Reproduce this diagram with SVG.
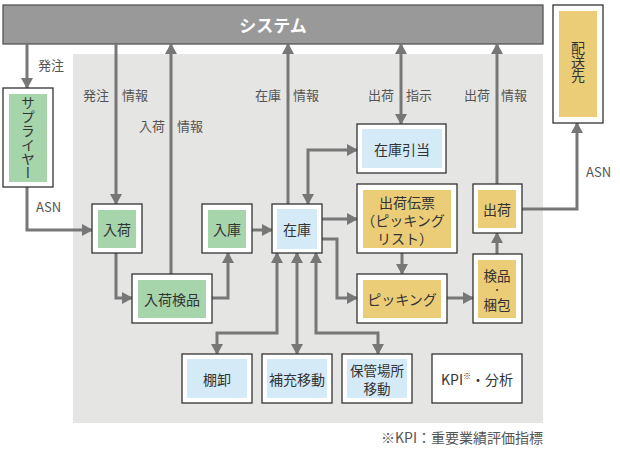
<svg xmlns="http://www.w3.org/2000/svg" width="620" height="450" viewBox="0 0 620 450">
<defs>
<marker id="ah" markerUnits="userSpaceOnUse" markerWidth="11" markerHeight="12" refX="10" refY="6" orient="auto-start-reverse">
<path d="M0,0 L11,6 L0,12 z" fill="#777"/>
</marker>
<style>
text{font-family:"Noto Sans CJK JP","Noto Sans",sans-serif;fill:#333;}
.lbl{font-size:13px;fill:#555;}
.t{font-size:14px;text-anchor:middle;dominant-baseline:central;}
.outer{fill:#fff;stroke:#333;stroke-width:1.3;}
.g{fill:#a6d4ab;}
.b{fill:#d4eaf7;}
.y{fill:#ebcc77;}
.c{fill:none;stroke:#777;stroke-width:3;}
.a{marker-end:url(#ah);}
.aa{marker-end:url(#ah);marker-start:url(#ah);}
</style>
</defs>
<rect x="73" y="54" width="470" height="369" fill="#e5e5e4"/>
<g id="system">
<rect x="3" y="5" width="540" height="39" fill="#999" stroke="#555" stroke-width="1.3"/>
<text x="273" y="24.5" class="t" style="fill:#fff;font-size:17px;font-weight:bold">システム</text>
</g>
<g id="connectors">
<path class="c a" d="M27,44 V88"/>
<path class="c a" d="M27,187 V230 H92"/>
<path class="c a" d="M116,44 V204"/>
<path class="c a" d="M171,274 V44"/>
<path class="c a" d="M116,253 V298 H132"/>
<path class="c a" d="M212,298 H228 V253"/>
<path class="c a" d="M252,230 H272"/>
<path class="c a" d="M288,204 V44"/>
<path class="c aa" d="M308,204 V150 H357"/>
<path class="c aa" d="M401,44 V124"/>
<path class="c a" d="M322,219 H357"/>
<path class="c a" d="M322,239 H337 V298 H357"/>
<path class="c a" d="M402,253 V274"/>
<path class="c a" d="M447,298 H473"/>
<path class="c a" d="M497,254 V233"/>
<path class="c a" d="M497,184 V44"/>
<path class="c a" d="M522,209 H577 V123"/>
<path class="c aa" d="M277,253 V333 H217 V354"/>
<path class="c aa" d="M297,253 V354"/>
<path class="c aa" d="M316,253 V333 H378 V354"/>
</g>
<g id="labels">
<text class="lbl" x="38" y="70">発注</text>
<text class="lbl" x="36" y="212">ASN</text>
<text class="lbl" x="83" y="100">発注</text>
<text class="lbl" x="122" y="100">情報</text>
<text class="lbl" x="139" y="131">入荷</text>
<text class="lbl" x="177" y="131">情報</text>
<text class="lbl" x="255" y="100">在庫</text>
<text class="lbl" x="293" y="100">情報</text>
<text class="lbl" x="368" y="100">出荷</text>
<text class="lbl" x="406" y="100">指示</text>
<text class="lbl" x="464" y="100">出荷</text>
<text class="lbl" x="501" y="100">情報</text>
<text class="lbl" x="586" y="177">ASN</text>
</g>
<g id="supplier">
<rect class="outer" x="3" y="88" width="50" height="99"/>
<rect class="g" x="9" y="94" width="38" height="88"/>
<text x="28" y="138" style="font-size:14px;writing-mode:vertical-rl;text-anchor:middle">サプライヤー</text>
</g>
<g id="delivery">
<rect class="outer" x="553" y="5" width="50" height="118"/>
<rect class="y" x="559" y="11" width="38" height="106"/>
<text x="578" y="62" style="font-size:14px;writing-mode:vertical-rl;text-anchor:middle">配送先</text>
</g>
<g id="nyuka">
<rect class="outer" x="92" y="204" width="50" height="49"/>
<rect class="g" x="98" y="210" width="38" height="38"/>
<text class="t" x="117" y="229">入荷</text>
</g>
<g id="nyukakenpin">
<rect class="outer" x="132" y="274" width="80" height="49"/>
<rect class="g" x="138" y="280" width="68" height="38"/>
<text class="t" x="172" y="299">入荷検品</text>
</g>
<g id="nyuko">
<rect class="outer" x="202" y="204" width="50" height="49"/>
<rect class="g" x="208" y="210" width="38" height="38"/>
<text class="t" x="227" y="229">入庫</text>
</g>
<g id="zaiko">
<rect class="outer" x="272" y="204" width="50" height="49"/>
<rect class="b" x="277" y="209" width="40" height="40"/>
<text class="t" x="297" y="229">在庫</text>
</g>
<g id="hikiate">
<rect class="outer" x="357" y="124" width="89" height="49"/>
<rect class="b" x="362" y="129" width="80" height="39"/>
<text class="t" x="402" y="149">在庫引当</text>
</g>
<g id="denpyo">
<rect class="outer" x="357" y="184" width="100" height="69"/>
<rect class="y" x="363" y="190" width="88" height="58"/>
<text class="t" x="407" y="202">出荷伝票</text>
<text class="t" x="403" y="220">（ピッキング</text>
<text class="t" x="405" y="238">リスト）</text>
</g>
<g id="picking">
<rect class="outer" x="357" y="274" width="90" height="49"/>
<rect class="y" x="363" y="280" width="78" height="38"/>
<text class="t" x="402" y="299">ピッキング</text>
</g>
<g id="kenpin">
<rect class="outer" x="473" y="254" width="49" height="69"/>
<rect class="y" x="478" y="260" width="38" height="58"/>
<text class="t" x="497" y="275" style="font-size:13.5px">検品</text>
<text class="t" x="497" y="289.5" style="font-size:9px">・</text>
<text class="t" x="497" y="304" style="font-size:13.5px">梱包</text>
</g>
<g id="shukka">
<rect class="outer" x="473" y="184" width="49" height="49"/>
<rect class="y" x="478" y="190" width="38" height="38"/>
<text class="t" x="497" y="209">出荷</text>
</g>
<g id="tanaoroshi">
<rect class="outer" x="182" y="354" width="70" height="49"/>
<rect class="b" x="187" y="359" width="60" height="39"/>
<text class="t" x="217" y="379">棚卸</text>
</g>
<g id="hoju">
<rect class="outer" x="262" y="354" width="70" height="49"/>
<rect class="b" x="267" y="359" width="60" height="39"/>
<text class="t" x="297" y="379">補充移動</text>
</g>
<g id="hokan">
<rect class="outer" x="342" y="354" width="70" height="49"/>
<rect class="b" x="347" y="359" width="60" height="39"/>
<text class="t" x="377" y="369.5" style="font-size:13.5px">保管場所</text>
<text class="t" x="377" y="388" style="font-size:13.5px">移動</text>
</g>
<g id="kpi">
<rect class="outer" x="432" y="354" width="90" height="49"/>
<text class="t" x="477" y="379">KPI<tspan style="font-size:8px" dy="-4">※</tspan><tspan dy="4">・分析</tspan></text>
</g>
<text x="543" y="443" style="font-size:14px;fill:#555;text-anchor:end">※KPI：重要業績評価指標</text>
</svg>
